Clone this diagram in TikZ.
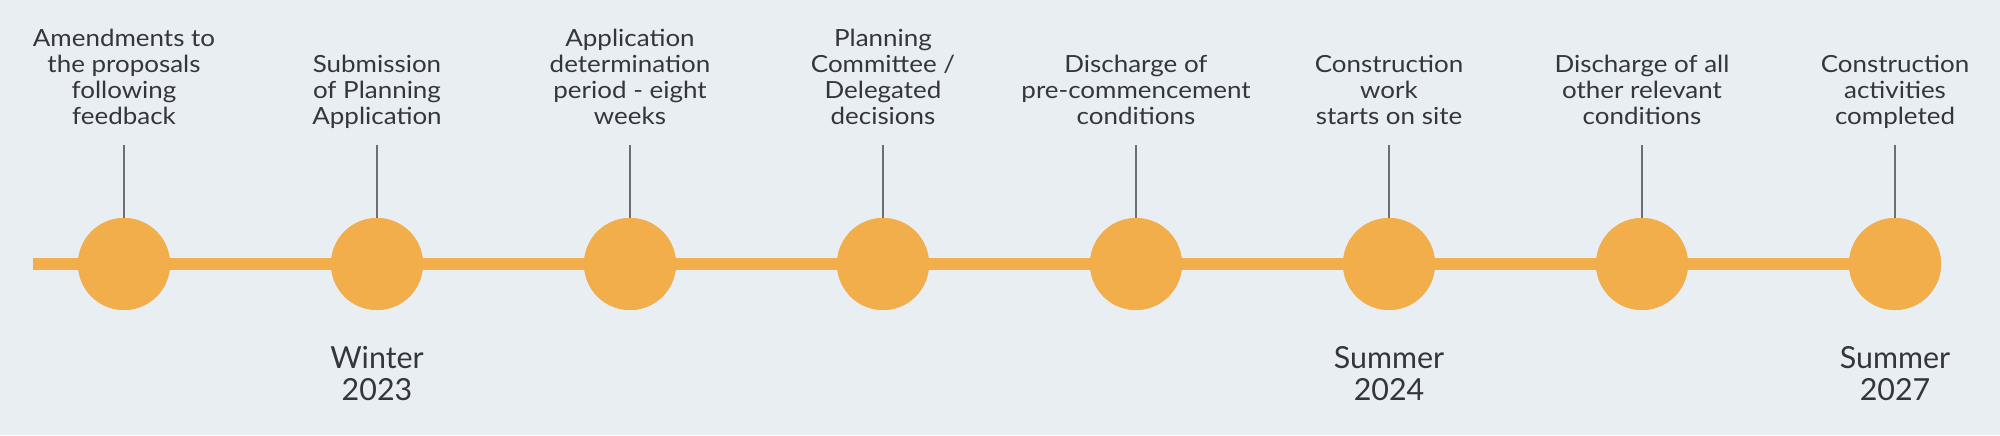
\documentclass[tikz,border=0pt]{standalone}
\usepackage{fontspec}
\setmainfont{Lato}
\newfontfamily\topfont{Lato}[FakeStretch=1.1]
\definecolor{bgc}{HTML}{E8EEF2}
\definecolor{orng}{HTML}{F2AE4A}
\definecolor{txt}{HTML}{33363B}
\definecolor{tick}{HTML}{6B6E72}
\begin{document}
\begin{tikzpicture}[x=0.5pt,y=-0.5pt,
  dot/.style={circle,fill=orng,minimum size=46pt,inner sep=0pt},
  toplabel/.style={align=center,anchor=south,inner sep=0pt,text=txt,font=\topfont\fontsize{11.8}{13}\selectfont},
  datelabel/.style={align=center,anchor=north,inner sep=0pt,text=txt,font=\fontsize{15.2}{16}\selectfont},
  tickline/.style={draw=tick,line width=0.75pt},
  rail/.style={draw=orng,line width=6pt}]
\fill[bgc] (0,0) rectangle (2000,435);
\useasboundingbox (0,0) rectangle (2000,435);
\coordinate (start) at (33,264);
\foreach \i/\x in {1/124,2/377,3/630,4/883,5/1136,6/1389,7/1642,8/1895}{
  \node[dot] (c\i) at (\x,264) {};
  \coordinate (t\i) at (\x,145);
}
\draw[rail] (start) -- (c1.center);
\foreach \a/\b in {1/2,2/3,3/4,4/5,5/6,6/7,7/8}{\draw[rail] (c\a.center) -- (c\b.center);}
\foreach \i in {1,...,8}{\node[dot] at (c\i) {};}
\foreach \i in {1,...,8}{\draw[tickline] (t\i) -- (c\i.north);}
\node[toplabel] (l1) at (124,133) {Amendments to\\the proposals\\following\\feedback\strut};
\node[toplabel] (l2) at (377,133) {Submission\\of Planning\\Application\strut};
\node[toplabel] (l3) at (630,133) {Application\\determination\\period - eight\\weeks\strut};
\node[toplabel] (l4) at (883,133) {Planning\\Committee /\\Delegated\\decisions\strut};
\node[toplabel] (l5) at (1136,133) {Discharge of\\pre-commencement\\conditions\strut};
\node[toplabel] (l6) at (1389,133) {Construction\\work\\starts on site\strut};
\node[toplabel] (l7) at (1642,133) {Discharge of all\\other relevant\\conditions\strut};
\node[toplabel] (l8) at (1895,133) {Construction\\activities\\completed\strut};
\node[datelabel] (d2) at (377,346) {\strut Winter\\2023};
\node[datelabel] (d6) at (1389,346) {\strut Summer\\2024};
\node[datelabel] (d8) at (1895,346) {\strut Summer\\2027};
\end{tikzpicture}
\end{document}
